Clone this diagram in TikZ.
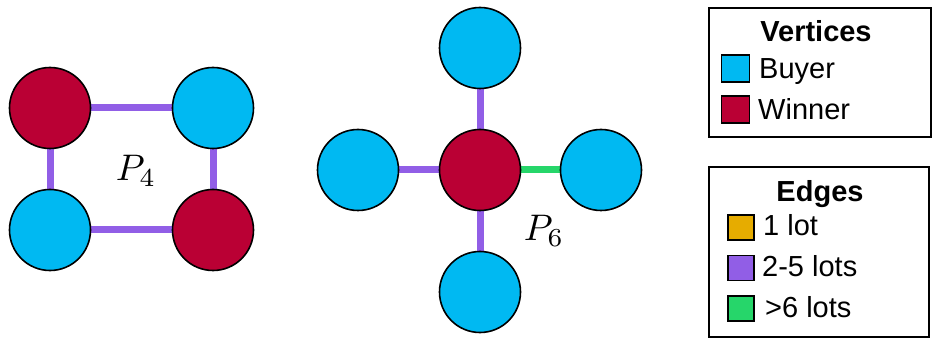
\documentclass[tikz,border=0pt]{standalone}
\usepackage{fix-cm}
\usepackage[no-math]{fontspec}
\setmainfont{Liberation Sans}
\usetikzlibrary{backgrounds}
\definecolor{buyer}{RGB}{0,185,242}
\definecolor{winner}{RGB}{186,0,52}
\definecolor{lotone}{RGB}{230,172,0}
\definecolor{lotmid}{RGB}{145,94,230}
\definecolor{lothigh}{RGB}{38,214,106}
\begin{document}
\begin{tikzpicture}[x=1pt,y=-1pt,
 vtx/.style={circle,draw=black,line width=1.6pt,minimum size=81pt,inner sep=0pt},
 buyerv/.style={vtx,fill=buyer},
 winnerv/.style={vtx,fill=winner},
 edg/.style={line width=7pt},
 midedge/.style={edg,draw=lotmid},
 highedge/.style={edg,draw=lothigh},
 legbox/.style={draw=black,line width=1.2pt,inner sep=0pt},
 swatch/.style={draw=black,line width=1.5pt,minimum width=26pt,minimum height=25pt,inner sep=0pt},
 legtitle/.style={font=\fontsize{29}{34}\selectfont\bfseries,anchor=base,inner sep=0pt},
 legtext/.style={font=\fontsize{29}{34}\selectfont,anchor=base west,inner sep=0pt},
 plabel/.style={inner sep=0pt}
]
\useasboundingbox (0,0) rectangle (935,339);
% P4
\node[winnerv] (a1) at (50,108) {};
\node[buyerv]  (a2) at (213,108) {};
\node[buyerv]  (a3) at (50,230) {};
\node[winnerv] (a4) at (213,230) {};
\node[plabel] (p4) at (136,171) {\scalebox{3.7}{$P_4$}};
% P6
\node[winnerv] (c) at (480,170) {};
\node[buyerv] (t) at (480,48) {};
\node[buyerv] (l) at (358,170) {};
\node[buyerv] (r) at (601,170) {};
\node[buyerv] (b) at (480,292) {};
\node[plabel] (p6) at (544,231) {\scalebox{3.7}{$P_6$}};
\begin{scope}[on background layer]
\draw[midedge] (a1) -- (a2);
\draw[midedge] (a1) -- (a3);
\draw[midedge] (a2) -- (a4);
\draw[midedge] (a3) -- (a4);
\draw[midedge] (c) -- (t);
\draw[midedge] (c) -- (l);
\draw[midedge] (c) -- (b);
\draw[highedge] (c) -- (r);
\end{scope}
% Vertices legend
\node[legbox,minimum width=222pt,minimum height=129pt] (vbox) at (820,72.5) {};
\node[legtitle] (vtitle) at (816,42) {Vertices};
\node[swatch,fill=buyer,minimum width=28pt,minimum height=27pt] (sb) at (735.5,68.5) {};
\node[legtext] (tb) at (759,79) {Buyer};
\node[swatch,fill=winner,minimum width=28pt,minimum height=27pt] (sw) at (735.5,109.5) {};
\node[legtext] (tw) at (758,120) {Winner};
% Edges legend
\node[legbox,minimum width=220pt,minimum height=170pt] (ebox) at (819,252) {};
\node[legtitle] (etitle) at (820,202) {Edges};
\node[swatch,fill=lotone] (s1) at (741,227.5) {};
\node[legtext] (t1) at (763,236) {1 lot};
\node[swatch,fill=lotmid] (s2) at (741,268) {};
\node[legtext] (t2) at (762,277) {2-5 lots};
\node[swatch,fill=lothigh] (s3) at (741,308.5) {};
\node[legtext] (t3) at (765,317) {>6 lots};
\end{tikzpicture}
\end{document}
